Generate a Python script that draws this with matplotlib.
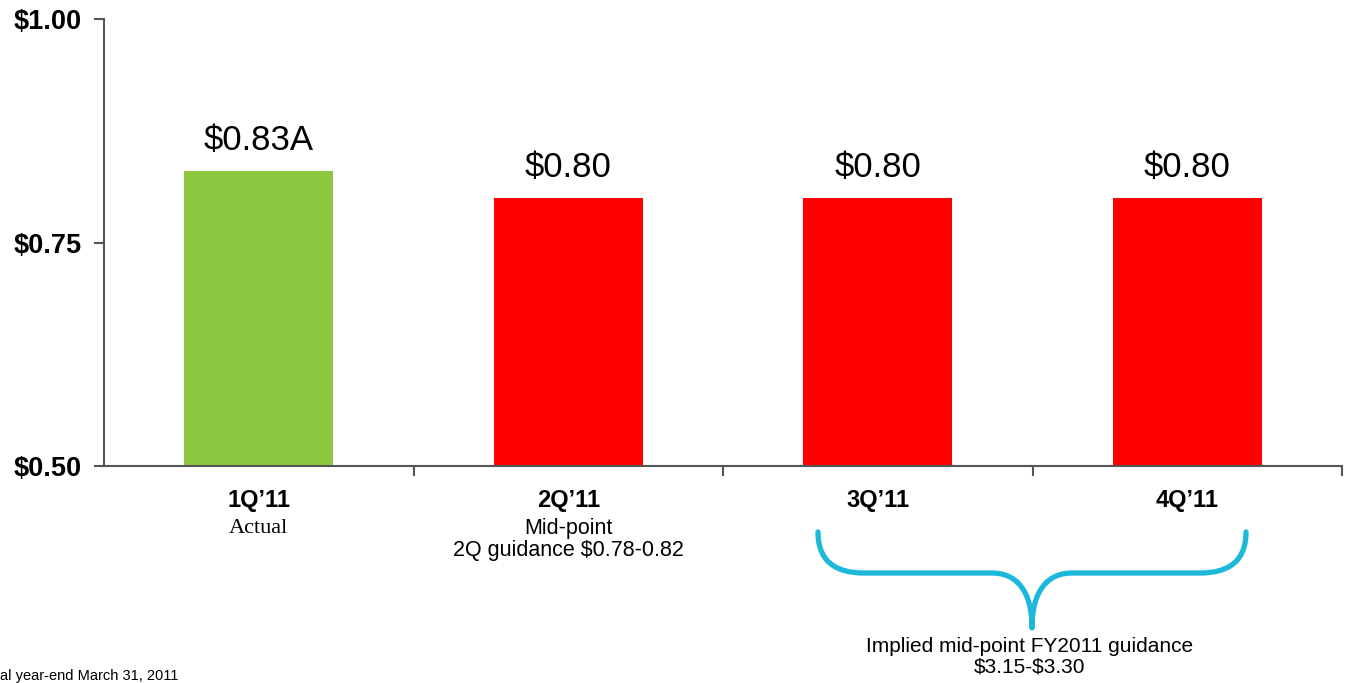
import numpy as np
import matplotlib
matplotlib.use('Agg')
import matplotlib.pyplot as plt
from matplotlib.path import Path
from matplotlib.patches import PathPatch
import matplotlib.transforms as mtransforms

# datos del grafico
quarters = ['1Q\u201911', '2Q\u201911', '3Q\u201911', '4Q\u201911']
eps = [0.83, 0.80, 0.80, 0.80]
value_labels = ['$0.83A', '$0.80', '$0.80', '$0.80']
sub_labels = ['Actual', 'Mid-point\n2Q guidance $0.78-0.82', '', '']
colors = ['#8DC63F', '#FF0000', '#FF0000', '#FF0000']
yticks = [0.50, 0.75, 1.00]
ytick_labels = ['$0.50', '$0.75', '$1.00']

plt.rcParams['font.family'] = ['Liberation Sans', 'DejaVu Sans']
plt.rcParams['text.parse_math'] = False

W, H = 1351, 683
fig = plt.figure(figsize=(W / 100, H / 100), dpi=100)
ax = fig.add_axes([104 / W, (H - 466) / H, (1342 - 104) / W, (466 - 19) / H])

x = np.arange(len(quarters))
ax.bar(x, eps, width=0.48, color=colors, zorder=2)
ax.set_xlim(-0.5, 3.5)
ax.set_ylim(0.5, 1.0)

for xi, v, lab in zip(x, eps, value_labels):
    ax.annotate(lab, (xi, v), xytext=(0, 10), textcoords='offset points',
                ha='center', va='bottom', fontsize=25)

# ejes
for s in ['top', 'right']:
    ax.spines[s].set_visible(False)
for s in ['left', 'bottom']:
    ax.spines[s].set_color('#555555')
    ax.spines[s].set_linewidth(1.5)
ax.set_yticks(yticks)
ax.set_yticklabels(ytick_labels, fontsize=19.5, fontweight='bold')
ax.tick_params(axis='y', length=7, width=1.5, color='#555555', pad=9)
ax.set_xticks([0.5, 1.5, 2.5, 3.5])
ax.set_xticklabels([])
ax.tick_params(axis='x', length=7, width=1.5, color='#555555', direction='out')

# etiquetas de categorias
trans = mtransforms.blended_transform_factory(ax.transData, ax.transAxes)
for xi, q, sub in zip(x, quarters, sub_labels):
    ax.text(xi, -0.078, q, transform=trans, ha='center', va='center',
            fontsize=17, fontweight='bold')
    if sub == 'Actual':
        ax.text(xi, -0.14, sub, transform=trans, ha='center', va='center',
                fontsize=16, family='Liberation Serif')
    elif sub:
        ax.text(xi, -0.14, sub.split('\n')[0], transform=trans, ha='center',
                va='center', fontsize=15.5)
        ax.text(xi, -0.19, sub.split('\n')[1], transform=trans, ha='center',
                va='center', fontsize=15.5)

# llave azul (coordenadas en pixeles)
def px(a, b):
    return (a / W, (H - b) / H)

verts = [px(818, 532), px(818, 560), px(834, 573), px(864, 573),
         px(992, 573),
         px(1016, 573), px(1032, 590), px(1032, 628),
         px(1032, 590), px(1048, 573), px(1072, 573),
         px(1200, 573),
         px(1230, 573), px(1246, 560), px(1246, 532)]
codes = [Path.MOVETO, Path.CURVE4, Path.CURVE4, Path.CURVE4,
         Path.LINETO,
         Path.CURVE4, Path.CURVE4, Path.CURVE4,
         Path.CURVE4, Path.CURVE4, Path.CURVE4,
         Path.LINETO,
         Path.CURVE4, Path.CURVE4, Path.CURVE4]
brace = PathPatch(Path(verts, codes), transform=fig.transFigure,
                  facecolor='none', edgecolor='#1DB8DA', linewidth=3.8,
                  capstyle='round', joinstyle='round')
fig.patches.append(brace)

fig.text(1030 / W, (H - 647) / H, 'Implied mid-point FY2011 guidance',
         ha='center', va='center', fontsize=15)
fig.text(1030 / W, (H - 667) / H, '$3.15-$3.30',
         ha='center', va='center', fontsize=15)

fig.text(0, (H - 676) / H, 'al year-end March 31, 2011', ha='left',
         va='center', fontsize=10.5)

plt.savefig('out.png', dpi=100)
